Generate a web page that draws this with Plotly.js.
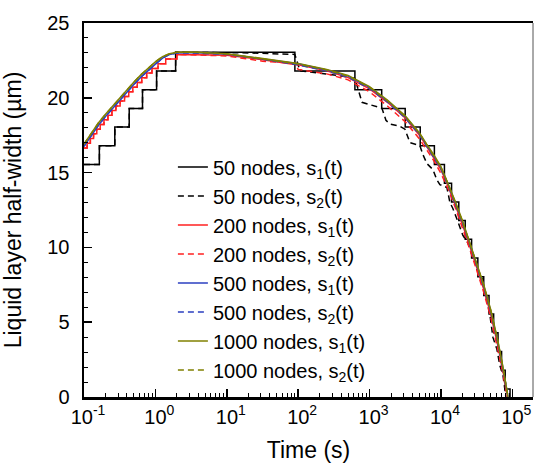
<!DOCTYPE html>
<html>
<head>
<meta charset="utf-8">
<script src="https://cdn.plot.ly/plotly-3.0.1.min.js"></script>
<style>html,body{margin:0;padding:0;background:#fff;}#chart{width:534px;height:463px;}</style>
</head>
<body>
<div id="chart"></div>
<script>
// ---- Data (time in s, half-width in µm) ----
// 50 nodes, s1(t): staircase corner points (step starts)
const t_50_s1 = [0.1,0.164,0.27,0.43,0.66,1.04,1.92,90,624,1480,3160,5130,8100,11200,14100,17800,21900,26900,32900,39800,47200,54800,63100,70800,79500,93000];
const y_50_s1 = [15.54,16.79,18.04,19.29,20.54,21.79,23.04,21.79,20.54,19.29,18.04,16.79,15.54,14.29,13.04,11.79,10.54,9.29,8.04,6.79,5.54,4.29,3.04,1.79,0.54,0];

// 50 nodes, s2(t)
const t_50_s2 = [0.1,0.164,0.165,0.27,0.271,0.43,0.431,0.66,0.661,1.04,1.041,1.92,1.93,20,90,106,349,624,783,1117,1493,1698,1932,2667,3133,3681,5080,5598,6368,7730,8790,9680,12140,13370,14720,16750,18450,20320,23880,27170,29930,31900,37500,44060,48530,53460,60800,67000,73800,81300];
const y_50_s2 = [15.54,15.54,16.79,16.79,18.04,18.04,19.29,19.29,20.54,20.54,21.79,21.79,23.04,23.0,22.9,21.8,21.5,21.3,19.7,19.5,19.3,18.5,18.25,18.1,17.9,17.0,16.8,16.2,15.6,15.2,14.5,14.2,14.0,13.0,12.6,11.9,11.3,10.8,10.3,9.5,9.3,8.5,8.0,6.5,5.5,4.0,3.2,2.1,1.5,0];

// 200 nodes: rising staircase (shared), then falling parts
const t_200_rise = [0.1,0.1107,0.1107,0.1227,0.1227,0.1361,0.1361,0.151,0.151,0.1687,0.1687,0.1905,0.1905,0.2163,0.2163,0.246,0.246,0.28,0.28,0.3206,0.3206,0.37,0.37,0.4236,0.4236,0.483,0.483,0.557,0.557,0.644,0.644,0.755,0.755,0.895,0.895,1.089,1.089,1.396,1.396,2.0,2.0];
const y_200_rise = [16.65,16.65,16.96,16.96,17.28,17.28,17.59,17.59,17.9,17.9,18.21,18.21,18.53,18.53,18.84,18.84,19.15,19.15,19.46,19.46,19.78,19.78,20.09,20.09,20.4,20.4,20.71,20.71,21.03,21.03,21.34,21.34,21.65,21.65,21.96,21.96,22.28,22.28,22.59,22.59,22.9];
const t_200_s1_fall = [10,31.6,100,251,501,1000,1780,3160,5010,6310,7940,10000,12600,15800,20000,25100,31600,39800,50100,63100,74100,86000];
const y_200_s1_fall = [22.85,22.55,22.2,21.8,21.35,20.6,19.7,18.65,17.5,16.75,16.0,15.2,14.1,12.9,11.55,10.15,8.75,7.2,5.5,3.4,1.7,0];
const t_200_s2_fall = [10,31.6,90,100,251,501,1000,1780,3160,5010,7940,10000,12600,15800,20000,25100,31600,39800,50100,63100,74100,85000];
const y_200_s2_fall = [22.8,22.45,22.3,21.9,21.6,21.2,20.4,19.45,18.4,17.25,15.8,14.95,13.9,12.7,11.35,9.95,8.5,7.0,5.3,3.2,1.55,0];

// 500 and 1000 nodes (shared time grid)
const t_fine = [0.1,0.126,0.158,0.2,0.251,0.316,0.398,0.501,0.631,0.794,1.0,1.26,1.58,2.0,3.16,10,31.6,100,251,501,1000,1780,3160,5010,6310,7940,10000,12600,15800,20000,25100,31600,39800,50100,63100,74100,87100];
const y_500_s1 = [16.75,17.45,18.15,18.75,19.3,19.85,20.35,20.9,21.4,21.85,22.25,22.65,22.9,23.0,23.02,22.93,22.62,22.27,21.86,21.45,20.7,19.8,18.75,17.6,16.85,16.12,15.33,14.22,13.02,11.72,10.32,8.92,7.42,5.72,3.62,1.92,0];
const y_500_s2 = [16.75,17.45,18.15,18.75,19.3,19.85,20.35,20.9,21.4,21.85,22.25,22.65,22.9,23.0,23.0,22.9,22.58,22.2,21.8,21.38,20.62,19.72,18.66,17.52,16.77,16.05,15.25,14.15,12.95,11.65,10.25,8.85,7.35,5.65,3.55,1.85,0];
const y_1000_s1 = [16.9,17.6,18.3,18.9,19.45,20.0,20.5,21.05,21.55,22.0,22.4,22.75,22.95,23.05,23.06,22.95,22.65,22.3,21.9,21.5,20.75,19.85,18.8,17.65,16.9,16.2,15.4,14.3,13.1,11.8,10.4,9.0,7.5,5.8,3.7,2.0,0];
const y_1000_s2 = [16.9,17.6,18.3,18.9,19.45,20.0,20.5,21.05,21.55,22.0,22.4,22.75,22.95,23.05,23.05,22.93,22.62,22.26,21.86,21.45,20.7,19.8,18.75,17.62,16.86,16.15,15.35,14.25,13.05,11.75,10.35,8.95,7.45,5.75,3.65,1.95,0];

const names = ['50 nodes, s<sub>1</sub>(t)','50 nodes, s<sub>2</sub>(t)','200 nodes, s<sub>1</sub>(t)','200 nodes, s<sub>2</sub>(t)','500 nodes, s<sub>1</sub>(t)','500 nodes, s<sub>2</sub>(t)','1000 nodes, s<sub>1</sub>(t)','1000 nodes, s<sub>2</sub>(t)'];
const colors = ['#000000','#000000','#ff2020','#ff2020','#2b3fc0','#2b3fc0','#808000','#808000'];

const xTickVals = [0.1,1,10,100,1000,10000,100000];
const xTickText = ['10<sup>-1</sup>','10<sup>0</sup>','10<sup>1</sup>','10<sup>2</sup>','10<sup>3</sup>','10<sup>4</sup>','10<sup>5</sup>'];

// ---- Build ----
const dashPat = '6px,4px';
function tr(x, y, i, shape) {
  return {x: x, y: y, mode: 'lines', name: names[i], type: 'scatter',
    line: {color: colors[i], width: 1.5, dash: (i % 2 === 1) ? dashPat : 'solid', shape: shape || 'linear'}};
}
const data = [
  tr(t_50_s1, y_50_s1, 0, 'hv'),
  tr(t_50_s2, y_50_s2, 1),
  tr(t_200_rise.concat(t_200_s1_fall), y_200_rise.concat(y_200_s1_fall), 2),
  tr(t_200_rise.concat(t_200_s2_fall), y_200_rise.concat(y_200_s2_fall), 3),
  tr(t_fine, y_500_s1, 4),
  tr(t_fine, y_500_s2, 5),
  tr(t_fine, y_1000_s1, 6),
  tr(t_fine, y_1000_s2, 7)
];

const minorX = [];
for (let e = -1; e <= 5; e++) for (let d = 2; d <= 9; d++) { const v = d * Math.pow(10, e); if (v < 190000) minorX.push(v); }

const FONT = 'Liberation Sans, Arial, sans-serif';
const layout = {
  width: 534, height: 463,
  margin: {l: 84, r: 1, t: 23, b: 66},
  paper_bgcolor: '#fff', plot_bgcolor: '#fff',
  font: {family: FONT, color: '#000', size: 20},
  showlegend: true,
  legend: {x: 0.198, y: 0.667, xanchor: 'left', yanchor: 'top', bgcolor: 'rgba(0,0,0,0)',
    font: {family: FONT, size: 20, color: '#000'}, itemwidth: 30, tracegroupgap: 0},
  xaxis: {
    type: 'log', range: [-1, 5.29],
    tickmode: 'array', tickvals: xTickVals, ticktext: xTickText,
    ticks: 'inside', ticklen: 8, tickwidth: 1.5, tickcolor: '#000',
    ticklabelshift: 4,
    minor: {tickmode: 'array', tickvals: minorX, ticks: 'inside', ticklen: 4, tickwidth: 1, tickcolor: '#000', showgrid: false},
    showline: true, linewidth: 2.5, linecolor: '#000', mirror: true,
    showgrid: false, zeroline: false,
    tickfont: {size: 20, family: FONT},
    title: {text: 'Time (s)\u00a0\u00a0\u00a0\u00a0\u00a0', font: {size: 23, family: FONT}, standoff: 16}
  },
  yaxis: {
    range: [0, 25], tickmode: 'linear', tick0: 0, dtick: 5,
    ticks: 'inside', ticklen: 8, tickwidth: 1.5, tickcolor: '#000',
    minor: {dtick: 1, ticks: 'inside', ticklen: 4, tickwidth: 1, tickcolor: '#000', showgrid: false},
    showline: true, linewidth: 2.5, linecolor: '#000', mirror: false,
    showgrid: false, zeroline: false,
    ticklabelstandoff: 8,
    tickfont: {size: 20, family: FONT},
    title: {text: 'Liquid layer half-width (\u00b5m)\u00a0', font: {size: 23, family: FONT}, standoff: 20}
  },
  shapes: [{type: 'line', xref: 'paper', yref: 'paper', x0: 1, x1: 1, y0: 0, y1: 1, line: {color: '#555', width: 1}}]
};

Plotly.newPlot('chart', data, layout, {displayModeBar: false, staticPlot: true});
</script>
</body>
</html>
